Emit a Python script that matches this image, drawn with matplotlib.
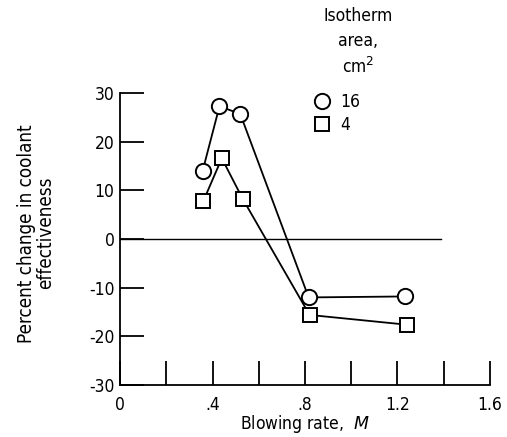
import matplotlib
matplotlib.use("Agg")
import matplotlib.pyplot as plt
from matplotlib.lines import Line2D

plt.rcParams['font.family'] = ['DejaVu Sans']

# Data
blowing_16 = [0.357, 0.43, 0.52, 0.816, 1.235]
effect_16 = [14.0, 27.3, 25.7, -12.0, -11.8]
blowing_4 = [0.36, 0.44, 0.53, 0.82, 1.24]
effect_4 = [7.8, 16.6, 8.3, -15.6, -17.6]
legend_labels = ['16', '4']
legend_title = 'Isotherm\narea,\ncm$^2$'
xticks_major = [0, 0.4, 0.8, 1.2, 1.6]
xtick_labels = ['0', '.4', '.8', '1.2', '1.6']
xticks_minor = [0.2, 0.6, 1.0, 1.4]
yticks = [-30, -20, -10, 0, 10, 20, 30]
ytick_labels = ['-30', '-20', '-10', '0', '10', '20', '30']
zero_line_x = [0, 1.39]
zero_line_y = [0, 0]

fig = plt.figure(figsize=(5.07, 4.37), dpi=100)
ax = fig.add_axes([0.237, 0.119, 0.729, 0.668])

ax.plot(zero_line_x, zero_line_y, color='black', lw=1.0)
ax.plot(blowing_16, effect_16, color='black', lw=1.3, marker='o', ms=11,
        mfc='white', mec='black', mew=1.4)
ax.plot(blowing_4, effect_4, color='black', lw=1.3, marker='s', ms=10,
        mfc='white', mec='black', mew=1.4)

ax.set_xlim(0, 1.6)
ax.set_ylim(-30, 30)
ax.spines['top'].set_visible(False)
ax.spines['right'].set_visible(False)
for s in ['left', 'bottom']:
    ax.spines[s].set_linewidth(1.3)

ax.set_xticks(xticks_major)
ax.set_xticks(xticks_minor, minor=True)
ax.set_yticks(yticks)
ax.tick_params(axis='both', which='both', direction='in', length=17, width=1.3)
ax.set_xticklabels(xtick_labels, fontsize=12.5, fontstretch='condensed')
ax.set_yticklabels(ytick_labels, fontsize=12.5, fontstretch='condensed')
ax.tick_params(axis='x', pad=8)
ax.tick_params(axis='y', pad=4)

ax.set_xlabel('Blowing rate,  $\\it{M}$', fontsize=12.5, fontstretch='condensed',
              labelpad=-1)
ax.set_ylabel('Percent change in coolant\neffectiveness', fontsize=13.5,
              linespacing=1.0, fontstretch='condensed')
ax.yaxis.set_label_coords(-0.176, 0.52)

fig.text(0.707, 0.983, legend_title, ha='center', va='top', fontsize=12.5,
         fontstretch='condensed', multialignment='center', linespacing=1.45)

handles = [Line2D([], [], marker='o', ls='none', ms=11, mfc='white', mec='black', mew=1.4),
           Line2D([], [], marker='s', ls='none', ms=10, mfc='white', mec='black', mew=1.4)]
leg = ax.legend(handles, legend_labels, frameon=False, prop={'size': 12.5, 'stretch': 'condensed'},
                loc='upper left', bbox_to_anchor=(0.60, 0.808),
                bbox_transform=fig.transFigure, handlelength=1.0,
                handletextpad=0.6, labelspacing=0.3, borderpad=0)

fig.savefig('out.png', dpi=100)
